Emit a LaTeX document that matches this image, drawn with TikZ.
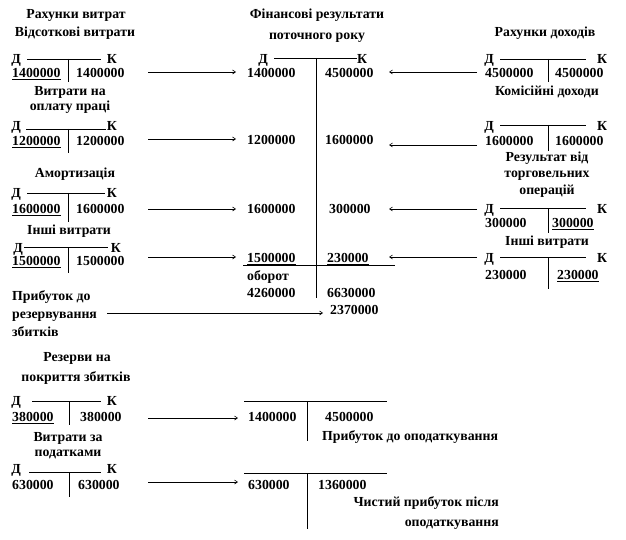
\documentclass[tikz,border=0pt]{standalone}
\usepackage{fontspec}
\setmainfont{Liberation Serif}
\usetikzlibrary{arrows.meta}
\begin{document}
\begin{tikzpicture}[x=1pt,y=-1pt,
  txt/.style={font=\bfseries\fontsize{13.8}{15}\selectfont, inner sep=0pt, text height=9.5pt, text depth=2.5pt},
  num/.style={txt, anchor=west},
  tline/.style={line width=0.8pt},
  arr/.style={line width=0.6pt, -{Straight Barb[length=3pt,width=4pt]}}]
\useasboundingbox (0,0) rectangle (626,540);

% ---------- left column ----------
\node[txt] (lh1) at (76,15) {Рахунки витрат};
\node[txt] (lh2) at (75,33) {Відсоткові витрати};
\node[txt] (ld1) at (16,60) {Д};
\node[txt] (lk1) at (112,60) {К};
\draw[tline] (27,59) -- (101,59);
\draw[tline] (68,59) -- (68,82);
\node[num] (ln1a) at (12,74) {\underline{1400000}};
\node[num] (ln1b) at (76,74) {1400000};

\node[txt] (lh3) at (70,92) {Витрати на};
\node[txt] (lh4) at (70,107) {оплату праці};
\node[txt] (ld2) at (16,127) {Д};
\node[txt] (lk2) at (112,127) {К};
\draw[tline] (26,129) -- (106,129);
\draw[tline] (68,129) -- (68,153);
\node[num] (ln2a) at (12,142) {\underline{1200000}};
\node[num] (ln2b) at (76,142) {1200000};

\node[txt] (lh5) at (75,174) {Амортизація};
\node[txt] (ld3) at (16,194) {Д};
\node[txt] (lk3) at (112,194) {К};
\draw[tline] (27,193) -- (105,193);
\draw[tline] (68,193) -- (68,222);
\node[num] (ln3a) at (12,210) {\underline{1600000}};
\node[num] (ln3b) at (76,210) {1600000};

\node[txt] (lh6) at (69,231) {Інші витрати};
\node[txt] (ld4) at (18,249) {Д};
\node[txt] (lk4) at (116,249) {К};
\draw[tline] (24,247) -- (108,247);
\draw[tline] (68,247) -- (68,273);
\node[num] (ln4a) at (12,262) {\underline{1500000}};
\node[num] (ln4b) at (76,262) {1500000};

\node[txt,anchor=west] (lp1) at (12,297) {Прибуток до};
\node[txt,anchor=west] (lp2) at (12,315) {резервування};
\node[txt,anchor=west] (lp3) at (12,333) {збитків};

% ---------- centre ----------
\node[txt] (ch1) at (317,15) {Фінансові результати};
\node[txt] (ch2) at (317,36) {поточного року};
\node[txt] (cd) at (263,60) {Д};
\node[txt] (ck) at (362,60) {К};
\draw[tline] (274,58) -- (357,58);
\draw[tline] (316,58) -- (316,298);
\draw[tline] (243,265) -- (395,265);
\node[num] (c1a) at (247,74) {1400000};
\node[num] (c1b) at (325,74) {4500000};
\node[num] (c2a) at (247,141) {1200000};
\node[num] (c2b) at (325,141) {1600000};
\node[num] (c3a) at (247,210) {1600000};
\node[num] (c3b) at (329,210) {300000};
\node[num] (c4a) at (247,259) {\underline{1500000}};
\node[num] (c4b) at (327,259) {\underline{230000}};
\node[num] (cob) at (247,277) {оборот};
\node[num] (c5a) at (247,294) {4260000};
\node[num] (c5b) at (327,294) {6630000};
\node[num] (c6) at (330,311) {2370000};

% ---------- right column ----------
\node[txt] (rh1) at (545,33) {Рахунки доходів};
\node[txt] (rd1) at (489,60) {Д};
\node[txt] (rk1) at (602,60) {К};
\draw[tline] (500,59) -- (586,59);
\draw[tline] (548,59) -- (548,82);
\node[num] (r1a) at (485,74) {4500000};
\node[num] (r1b) at (555,74) {4500000};

\node[txt] (rh2) at (547,92) {Комісійні доходи};
\node[txt] (rd2) at (489,127) {Д};
\node[txt] (rk2) at (602,127) {К};
\draw[tline] (500,125) -- (586,125);
\draw[tline] (548,125) -- (548,151);
\node[num] (r2a) at (485,142) {1600000};
\node[num] (r2b) at (555,142) {1600000};

\node[txt] (rh3) at (547,158) {Результат від};
\node[txt] (rh4) at (547,174) {торговельних};
\node[txt] (rh5) at (547,191) {операцій};
\node[txt] (rd3) at (489,210) {Д};
\node[txt] (rk3) at (602,210) {К};
\draw[tline] (500,208) -- (586,208);
\draw[tline] (548,208) -- (548,233);
\node[num] (r3a) at (485,224) {300000};
\node[num] (r3b) at (552,224) {\underline{300000}};

\node[txt] (rh6) at (547,242) {Інші витрати};
\node[txt] (rd4) at (489,259) {Д};
\node[txt] (rk4) at (602,259) {К};
\draw[tline] (500,257) -- (586,257);
\draw[tline] (548,257) -- (548,289);
\node[num] (r4a) at (485,276) {230000};
\node[num] (r4b) at (557,276) {\underline{230000}};

% ---------- bottom ----------
\node[txt] (bh1) at (77,358) {Резерви на};
\node[txt] (bh2) at (76,378) {покриття збитків};
\node[txt] (bd1) at (16,402) {Д};
\node[txt] (bk1) at (112,402) {К};
\draw[tline] (32,401) -- (101,401);
\draw[tline] (69,401) -- (69,425);
\node[num] (b1a) at (12,418) {\underline{380000}};
\node[num] (b1b) at (80,418) {380000};

\node[txt] (bh3) at (68,438) {Витрати за};
\node[txt] (bh4) at (68,453) {податками};
\node[txt] (bd2) at (16,470) {Д};
\node[txt] (bk2) at (112,470) {К};
\draw[tline] (29,472) -- (101,472);
\draw[tline] (69,472) -- (69,497);
\node[num] (b2a) at (12,486) {630000};
\node[num] (b2b) at (78,486) {630000};

\draw[tline] (244,401) -- (387,401);
\draw[tline] (307,401) -- (307,441);
\node[num] (b3a) at (248,418) {1400000};
\node[num] (b3b) at (325,418) {4500000};
\node[num] (b3t) at (322,437) {Прибуток до оподаткування};

\draw[tline] (244,473) -- (387,473);
\draw[tline] (307,473) -- (307,529);
\node[num] (b4a) at (248,486) {630000};
\node[num] (b4b) at (318,486) {1360000};
\node[txt,anchor=east] (b4t1) at (499,503) {Чистий прибуток після};
\node[txt,anchor=east] (b4t2) at (499,523) {оподаткування};

% ---------- arrow end points ----------
\coordinate (s1) at (148,72);  \coordinate (e1) at (236,72);
\coordinate (s2) at (148,139); \coordinate (e2) at (236,139);
\coordinate (s3) at (148,209); \coordinate (e3) at (236,209);
\coordinate (s4) at (148,257); \coordinate (e4) at (236,257);
\coordinate (s5) at (107,313); \coordinate (e5) at (323,313);
\coordinate (t1) at (477,72);  \coordinate (f1) at (389,72);
\coordinate (t2) at (477,145); \coordinate (f2) at (389,145);
\coordinate (t3) at (477,209); \coordinate (f3) at (389,209);
\coordinate (t4) at (477,257); \coordinate (f4) at (389,257);
\coordinate (s6) at (148,418); \coordinate (e6) at (238,418);
\coordinate (s7) at (148,482); \coordinate (e7) at (238,482);

\foreach \a/\b in {s1/e1,s2/e2,s3/e3,s4/e4,s5/e5,t1/f1,t2/f2,t3/f3,t4/f4,s6/e6,s7/e7}
  \draw[arr] (\a) -- (\b);
\end{tikzpicture}
\end{document}
